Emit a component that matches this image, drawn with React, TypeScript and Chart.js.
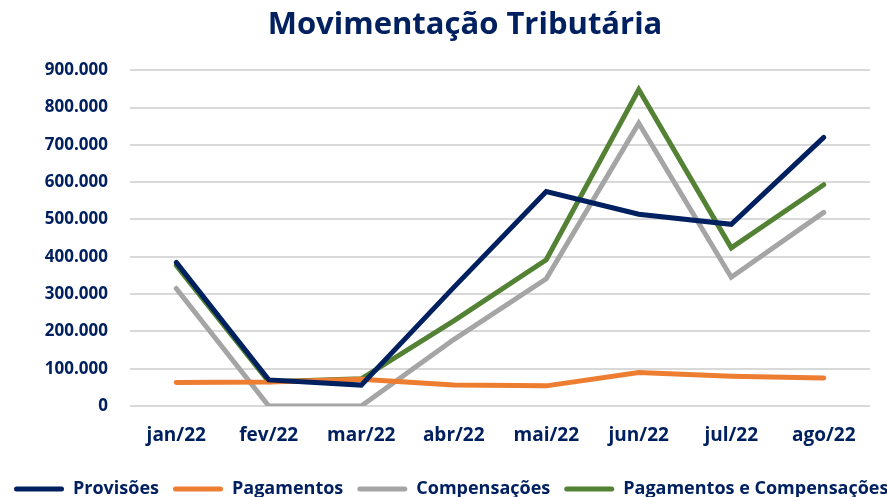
import React, { useEffect, useRef } from "react";
import { Chart, registerables } from "chart.js";

Chart.register(...registerables);

const categories = ["jan/22", "fev/22", "mar/22", "abr/22", "mai/22", "jun/22", "jul/22", "ago/22"];
const provisoes = [385000, 70000, 56000, 318000, 575000, 514000, 487000, 720000];
const pagamentos = [63000, 64000, 72000, 56000, 54000, 90000, 80000, 75000];
const compensacoes = [315000, 0, 0, 178000, 341000, 758000, 345000, 519000];
const pagComp = [377000, 65000, 73000, 228000, 392000, 848000, 424000, 593000];

const NAVY = "#002060";
const FONT = "'Open Sans', 'Noto Sans', sans-serif";

function fmt(v: number): string {
  return Math.round(v).toString().replace(/\B(?=(\d{3})+(?!\d))/g, ".");
}

export default function App() {
  const ref = useRef<HTMLCanvasElement | null>(null);
  useEffect(() => {
    document.body.style.overflow = "hidden";
    const ctx = ref.current!;
    const mk = (label: string, data: number[], color: string) => ({
      label,
      data,
      borderColor: color,
      backgroundColor: color,
      borderWidth: 5,
      pointRadius: 0,
      tension: 0,
      borderCapStyle: "round" as const,
      fill: false,
      yAxisID: "y",
    });
    const chart = new Chart(ctx, {
      type: "line",
      data: {
        labels: categories,
        datasets: [
          mk("Provisões", provisoes, "#002060"),
          mk("Pagamentos", pagamentos, "#ED7D31"),
          mk("Compensações", compensacoes, "#A5A5A5"),
          mk("Pagamentos e Compensações", pagComp, "#548235"),
        ],
      },
      options: {
        animation: false,
        responsive: true,
        maintainAspectRatio: false,
        layout: { padding: { left: 0, right: 0, top: 7, bottom: 0 } },
        plugins: {
          title: {
            display: true,
            text: "Movimentação Tributária",
            color: NAVY,
            font: { family: FONT, size: 31, weight: "bold" },
            padding: { top: 0, bottom: 26 },
          },
          legend: {
            position: "bottom",
            align: "start",
            labels: {
              color: NAVY,
              font: { family: FONT, size: 18, weight: "bold" },
              boxWidth: 50,
              boxHeight: 5,
              padding: 14,
              useBorderRadius: true,
              borderRadius: 2.5,
              generateLabels: (c: any) =>
                (Chart.defaults.plugins.legend.labels.generateLabels as any)(c).map((l: any) => ({
                  ...l,
                  lineWidth: 0,
                })),
            },
          },
          tooltip: { enabled: false },
        },
        scales: {
          x: {
            offset: true,
            grid: { display: false },
            border: { display: false },
            ticks: {
              color: NAVY,
              font: { family: FONT, size: 19, weight: "bold" },
              padding: 10,
              maxRotation: 0,
            },
            afterFit: (s: any) => {
              s.height = 60;
            },
          },
          y: {
            position: "left",
            min: 0,
            max: 900000,
            grid: { color: "#D9D9D9", lineWidth: 2, drawTicks: false },
            border: { display: false },
            ticks: {
              stepSize: 100000,
              color: NAVY,
              font: { family: FONT, size: 17, weight: "bold" },
              padding: 22,
              callback: (v: any) => fmt(Number(v)),
            },
            afterFit: (s: any) => {
              s.width = 130;
            },
          },
          yR: {
            type: "linear",
            position: "right",
            display: true,
            grid: { display: false },
            border: { display: false },
            ticks: { display: false },
            afterFit: (s: any) => {
              s.width = 60;
            },
          },
        },
      },
    });
    return () => chart.destroy();
  }, []);
  return (
    <div style={{ position: "fixed", left: 0, top: 0, width: 930, height: 508 }}>
      <canvas ref={ref} />
    </div>
  );
}
